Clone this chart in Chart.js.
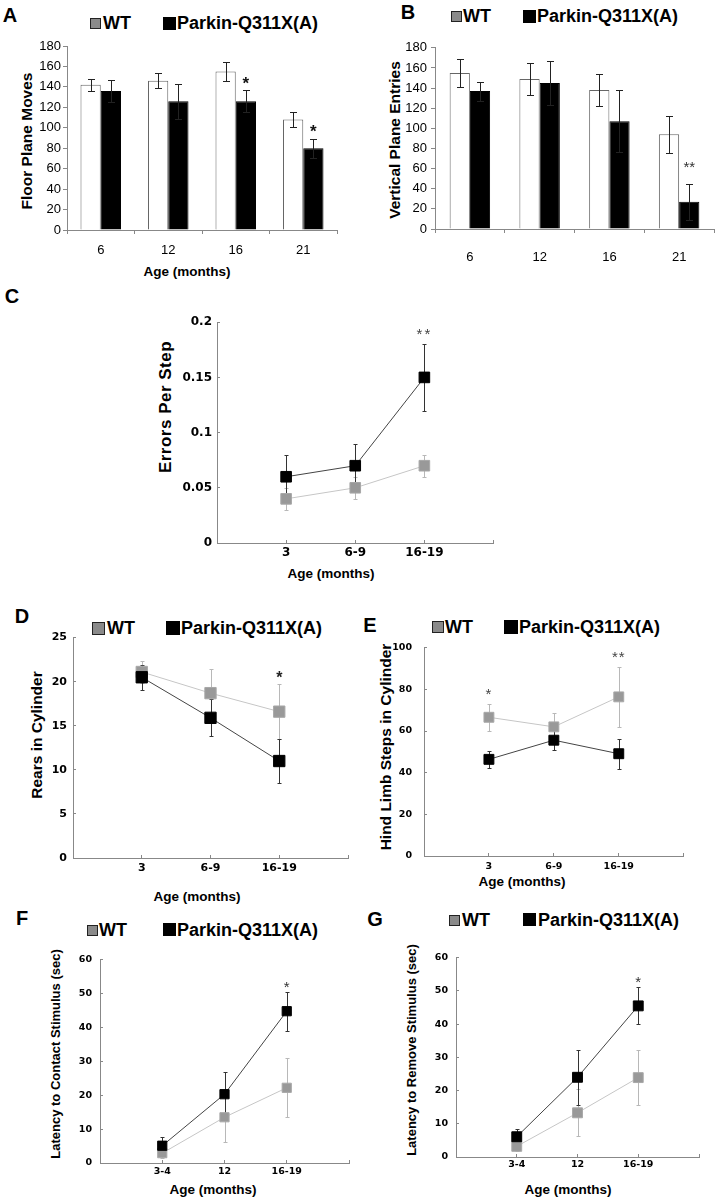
<!DOCTYPE html>
<html>
<head>
<meta charset="utf-8">
<script src="https://cdn.jsdelivr.net/npm/chart.js@4.4.0/dist/chart.umd.min.js"></script>
<style>
body{margin:0;background:#fff;width:716px;height:1199px;position:relative;overflow:hidden;font-family:"Liberation Sans",Arial,sans-serif;}
canvas{position:absolute;}
.t{position:absolute;white-space:nowrap;color:#000;font-weight:bold;line-height:1;}
.c{transform:translate(-50%,-50%);}
.r{transform:translate(-50%,-50%) rotate(-90deg);}
.l{transform:translateY(-50%);}
.wt{position:absolute;box-sizing:border-box;background:#8a8a8a;border:1.5px solid #222;}
.pk{position:absolute;background:#000;}
.lg{font-size:18px;}
</style>
</head>
<body>
<!-- panel letters -->
<div class="t c" style="left:10px;top:15px;font-size:20px">A</div>
<div class="t c" style="left:408px;top:12px;font-size:20px">B</div>
<div class="t c" style="left:12px;top:296px;font-size:20px">C</div>
<div class="t c" style="left:22px;top:616px;font-size:20px">D</div>
<div class="t c" style="left:370px;top:625px;font-size:20px">E</div>
<div class="t c" style="left:22px;top:918px;font-size:20px">F</div>
<div class="t c" style="left:375px;top:919px;font-size:20px">G</div>

<!-- legends -->
<div class="wt" style="left:90px;top:18px;width:11px;height:11px"></div>
<div class="t l lg" style="left:103px;top:23px">WT</div>
<div class="pk" style="left:163px;top:17px;width:13px;height:13px"></div>
<div class="t l lg" style="left:177px;top:23px">Parkin-Q311X(A)</div>

<div class="wt" style="left:451px;top:11px;width:11px;height:11px"></div>
<div class="t l lg" style="left:463px;top:16px">WT</div>
<div class="pk" style="left:523px;top:10px;width:13px;height:13px"></div>
<div class="t l lg" style="left:537px;top:16px">Parkin-Q311X(A)</div>

<div class="wt" style="left:92px;top:622px;width:13px;height:13px"></div>
<div class="t l lg" style="left:107px;top:628px">WT</div>
<div class="pk" style="left:166px;top:621px;width:14px;height:14px"></div>
<div class="t l lg" style="left:181px;top:628px">Parkin-Q311X(A)</div>

<div class="wt" style="left:432px;top:621px;width:12px;height:12px"></div>
<div class="t l lg" style="left:445px;top:627px">WT</div>
<div class="pk" style="left:504px;top:620px;width:14px;height:14px"></div>
<div class="t l lg" style="left:519px;top:627px">Parkin-Q311X(A)</div>

<div class="wt" style="left:87px;top:925px;width:11px;height:11px"></div>
<div class="t l lg" style="left:99px;top:930px">WT</div>
<div class="pk" style="left:163px;top:923px;width:13px;height:13px"></div>
<div class="t l lg" style="left:177px;top:930px">Parkin-Q311X(A)</div>

<div class="wt" style="left:449px;top:915px;width:11px;height:11px"></div>
<div class="t l lg" style="left:462px;top:920px">WT</div>
<div class="pk" style="left:523px;top:913px;width:13px;height:13px"></div>
<div class="t l lg" style="left:538px;top:920px">Parkin-Q311X(A)</div>

<!-- axis titles -->
<div class="t r" style="left:27px;top:141px;font-size:15.5px">Floor Plane Moves</div>
<div class="t c" style="left:187px;top:272px;font-size:13.5px">Age (months)</div>
<div class="t r" style="left:395px;top:140px;font-size:15.5px">Vertical Plane Entries</div>
<div class="t r" style="left:165px;top:407px;font-size:17px;letter-spacing:0.5px">Errors Per Step</div>
<div class="t c" style="left:331px;top:574px;font-size:13.5px">Age (months)</div>
<div class="t r" style="left:37px;top:735px;font-size:15.5px">Rears in Cylinder</div>
<div class="t c" style="left:197px;top:897px;font-size:13.5px">Age (months)</div>
<div class="t r" style="left:386px;top:747px;font-size:15.5px">Hind Limb Steps in Cylinder</div>
<div class="t c" style="left:522px;top:882px;font-size:13.5px">Age (months)</div>
<div class="t r" style="left:55px;top:1054px;font-size:13px">Latency to Contact Stimulus (sec)</div>
<div class="t c" style="left:213px;top:1190px;font-size:13.5px">Age (months)</div>
<div class="t r" style="left:411px;top:1050px;font-size:13px">Latency to Remove Stimulus (sec)</div>
<div class="t c" style="left:568px;top:1190px;font-size:13.5px">Age (months)</div>

<canvas id="cA"></canvas>
<canvas id="cB"></canvas>
<canvas id="cC"></canvas>
<canvas id="cD"></canvas>
<canvas id="cE"></canvas>
<canvas id="cF"></canvas>
<canvas id="cG"></canvas>

<script>
// A, B: open field (bars)
const barAges = ['6', '12', '16', '21'];
const floorWT = [142, 146, 155, 108];
const floorWTErr = [6, 7.5, 9, 7.5];
const floorPk = [136, 126, 126, 80];
const floorPkErr = [11, 17, 11, 9.5];
const floorStars = ['', '', '*', '*'];

const vertWT = [155, 149, 138, 94];
const vertWTErr = [14, 15.5, 15.5, 18.5];
const vertPk = [137, 145, 107, 27];
const vertPkErr = [9.5, 22, 31, 18];
const vertStars = ['', '', '', '**'];

// C, D, E: beam / cylinder
const gaitAges = ['3', '6-9', '16-19'];
const errWT = [0.04, 0.05, 0.07];
const errWTErr = [0.01, 0.01, 0.01];
const errPk = [0.06, 0.07, 0.15];
const errPkErr = [0.02, 0.02, 0.03];
const errStars = ['', '', '**'];

const rearsWT = [21.1, 18.7, 16.6];
const rearsWTErr = [1.2, 2.7, 3.1];
const rearsPk = [20.5, 15.9, 11];
const rearsPkErr = [1.4, 2.1, 2.5];
const rearsStars = ['', '', '*'];

const stepsWT = [66.6, 62, 76.4];
const stepsWTErr = [6.5, 6.5, 14.5];
const stepsPk = [46.4, 55.6, 49.1];
const stepsPkErr = [4, 4.7, 7.2];
const stepsStars = ['*', '', '**'];

// F, G: adhesive removal
const latAges = ['3-4', '12', '16-19'];
const contactWT = [2.9, 13.5, 22.2];
const contactWTErr = [1.5, 7.3, 8.7];
const contactPk = [5.1, 20.3, 44.8];
const contactPkErr = [2.6, 6.7, 5.8];
const contactStars = ['', '', '*'];

const removeWT = [3.2, 13.3, 23.9];
const removeWTErr = [1.5, 7.1, 8.3];
const removePk = [6.1, 24, 45.5];
const removePkErr = [2.2, 8.2, 5.6];
const removeStars = ['', '', '*'];

const txtFont = '"Liberation Sans", Arial, sans-serif';
const wideFont = '"DejaVu Sans", sans-serif';

function val(d) { return typeof d === 'object' ? d.y : d; }

function drawErr(chart, o) {
  const ctx = chart.ctx, ys = chart.scales.y;
  chart.data.datasets.forEach((ds, i) => {
    if (!ds.errors) return;
    const meta = chart.getDatasetMeta(i);
    ctx.save();
    ctx.strokeStyle = ds.errorColor;
    ctx.lineWidth = 1;
    meta.data.forEach((el, j) => {
      const v = val(ds.data[j]), e = ds.errors[j];
      const x = Math.round(el.x) + 0.5;
      const top = Math.round(ys.getPixelForValue(v + e)) + 0.5;
      const bot = Math.round(ys.getPixelForValue(v - e)) + 0.5;
      ctx.beginPath();
      ctx.moveTo(x, top); ctx.lineTo(x, bot);
      ctx.moveTo(x - o.cap, top); ctx.lineTo(x + o.cap, top);
      ctx.moveTo(x - o.cap, bot); ctx.lineTo(x + o.cap, bot);
      ctx.stroke();
    });
    ctx.restore();
  });
}

const errorBars = {
  id: 'errorBars',
  beforeDatasetsDraw(chart, args, o) { if (o.behind) drawErr(chart, o); },
  afterDatasetsDraw(chart, args, o) { if (!o.behind) drawErr(chart, o); }
};

const stars = {
  id: 'stars',
  afterDatasetsDraw(chart, args, o) {
    if (!o.marks) return;
    const ctx = chart.ctx, ds = chart.data.datasets[o.dataset];
    const meta = chart.getDatasetMeta(o.dataset);
    ctx.save();
    ctx.font = o.weight + ' ' + o.size + 'px ' + txtFont;
    ctx.fillStyle = o.color;
    ctx.textAlign = 'center';
    ctx.textBaseline = 'alphabetic';
    if (o.spacing) ctx.letterSpacing = o.spacing;
    o.marks.forEach((m, j) => {
      if (!m) return;
      const capY = chart.scales.y.getPixelForValue(val(ds.data[j]) + ds.errors[j]);
      ctx.fillText(m, meta.data[j].x + (o.dx || 0), capY - o.gap + 0.58 * o.size);
    });
    ctx.restore();
  }
};

// put a canvas so the plot area lands on the given page box
function place(cv, a, yW, xH, padT, padR) {
  cv.width = yW + a.r - a.l + padR;
  cv.height = padT + a.b - a.t + xH;
  cv.style.left = (a.l - yW) + 'px';
  cv.style.top = (a.t - padT) + 'px';
}

function barPanel(id, a, p) {
  const cv = document.getElementById(id);
  place(cv, a, p.yW, p.xH, 10, p.padR);
  new Chart(cv, {
    type: 'bar',
    data: {
      labels: barAges,
      datasets: [
        { label: 'WT', data: p.wt, errors: p.wtErr, errorColor: '#222',
          backgroundColor: '#fff', borderColor: '#666', borderWidth: 1 },
        { label: 'Parkin-Q311X(A)', data: p.pk, errors: p.pkErr, errorColor: '#222',
          backgroundColor: '#000', borderColor: '#000', borderWidth: 1 }
      ]
    },
    options: {
      responsive: false, animation: false, devicePixelRatio: 1,
      layout: { padding: { top: 10, right: p.padR, left: 0, bottom: 0 } },
      datasets: { bar: { categoryPercentage: p.cp, barPercentage: 1 } },
      plugins: {
        legend: { display: false }, tooltip: { enabled: false },
        errorBars: { behind: false, cap: 3.5 },
        stars: { marks: p.marks, dataset: 1, gap: p.starGap, size: p.starSize,
                 weight: p.starWeight, color: p.starColor }
      },
      scales: {
        x: {
          afterFit: s => { s.height = p.xH; },
          grid: { drawOnChartArea: false, tickLength: 4, color: '#888' },
          border: { color: '#888' },
          ticks: { padding: p.xPad, color: '#000', font: { family: txtFont, size: 13 } }
        },
        y: {
          min: 0, max: 180,
          afterFit: s => { s.width = p.yW; },
          grid: { drawOnChartArea: false, tickLength: 4, color: '#888' },
          border: { color: '#888' },
          ticks: { stepSize: 20, padding: p.yPad, color: '#000', font: { family: txtFont, size: 13 } }
        }
      }
    },
    plugins: [errorBars, stars]
  });
}

function linePanel(id, a, p) {
  const cv = document.getElementById(id);
  place(cv, a, 60, 28, 10, 8);
  const pts = arr => arr.map((v, i) => ({ x: i + 1, y: v }));
  const tickFont = { family: wideFont, size: p.font, weight: 'bold' };
  new Chart(cv, {
    type: 'line',
    data: {
      datasets: [
        { label: 'WT', data: pts(p.wt), errors: p.wtErr, errorColor: '#b8b8b8',
          borderColor: '#c6c6c6', borderWidth: 1, pointStyle: 'rect', pointRadius: p.r,
          pointBackgroundColor: '#999', pointBorderColor: '#a8a8a8', pointBorderWidth: 1, order: 1 },
        { label: 'Parkin-Q311X(A)', data: pts(p.pk), errors: p.pkErr, errorColor: '#333',
          borderColor: '#444', borderWidth: 1, pointStyle: 'rect', pointRadius: p.r,
          pointBackgroundColor: '#000', pointBorderColor: '#000', pointBorderWidth: 1, order: 0 }
      ]
    },
    options: {
      responsive: false, animation: false, devicePixelRatio: 1,
      layout: { padding: { top: 10, right: 8, left: 0, bottom: 0 } },
      plugins: {
        legend: { display: false }, tooltip: { enabled: false },
        errorBars: { behind: true, cap: 2 },
        stars: { marks: p.marks, dataset: p.starSet, gap: p.starGap, size: p.starSize,
                 weight: p.starWeight, color: p.starColor, spacing: p.starSpacing }
      },
      scales: {
        x: {
          type: 'linear', min: 0, max: 4,
          afterFit: s => { s.height = 28; },
          grid: { drawOnChartArea: false, tickLength: -3, color: '#888' },
          border: { color: '#888' },
          ticks: { stepSize: 1, autoSkip: false, maxRotation: 0, padding: p.xPad, color: '#000',
                   font: tickFont, callback: v => p.labels[v - 1] ?? '' }
        },
        y: {
          min: 0, max: p.max,
          afterFit: s => { s.width = 60; },
          grid: { drawOnChartArea: false, tickLength: -3, color: '#888' },
          border: { color: '#888' },
          ticks: { stepSize: p.step, padding: p.yPad, color: '#000', font: tickFont,
                   callback: v => String(+v.toFixed(2)) }
        }
      }
    },
    plugins: [errorBars, stars]
  });
}

barPanel('cA', { l: 67, t: 46, r: 337, b: 230 }, {
  wt: floorWT, wtErr: floorWTErr, pk: floorPk, pkErr: floorPkErr, marks: floorStars,
  yW: 67, xH: 34, padR: 6, xPad: 8.2, yPad: 2, cp: 0.6,
  starGap: 11, starSize: 17, starWeight: 'bold', starColor: '#111'
});
barPanel('cB', { l: 435, t: 46, r: 714, b: 229 }, {
  wt: vertWT, wtErr: vertWTErr, pk: vertPk, pkErr: vertPkErr, marks: vertStars,
  yW: 60, xH: 40, padR: 2, xPad: 16.2, yPad: 4, cp: 0.58,
  starGap: 20, starSize: 15, starWeight: 'normal', starColor: '#333'
});

linePanel('cC', { l: 217, t: 317, r: 494, b: 543 }, {
  labels: gaitAges, wt: errWT, wtErr: errWTErr, pk: errPk, pkErr: errPkErr, marks: errStars,
  max: 0.2, step: 0.05, font: 12, xPad: 5.8, yPad: 8, r: 7.5,
  starSet: 1, starGap: 14, starSize: 15, starWeight: 'normal', starColor: '#444', starSpacing: '2px'
});
linePanel('cD', { l: 73, t: 632, r: 349, b: 858 }, {
  labels: gaitAges, wt: rearsWT, wtErr: rearsWTErr, pk: rearsPk, pkErr: rearsPkErr, marks: rearsStars,
  max: 25, step: 5, font: 11, xPad: 6.4, yPad: 9, r: 8,
  starSet: 0, starGap: 11, starSize: 16, starWeight: 'bold', starColor: '#222'
});
linePanel('cE', { l: 424, t: 637, r: 684, b: 856 }, {
  labels: gaitAges, wt: stepsWT, wtErr: stepsWTErr, pk: stepsPk, pkErr: stepsPkErr, marks: stepsStars,
  max: 100, step: 20, font: 9.5, xPad: 8.3, yPad: 15, r: 7,
  starSet: 0, starGap: 13, starSize: 15, starWeight: 'normal', starColor: '#444', starSpacing: '1px'
});
linePanel('cF', { l: 100, t: 953, r: 349, b: 1163 }, {
  labels: latAges, wt: contactWT, wtErr: contactWTErr, pk: contactPk, pkErr: contactPkErr, marks: contactStars,
  max: 60, step: 10, font: 9.5, xPad: 6.3, yPad: 11, r: 6.5,
  starSet: 1, starGap: 8, starSize: 15, starWeight: 'normal', starColor: '#333'
});
linePanel('cG', { l: 456, t: 951, r: 699, b: 1157 }, {
  labels: latAges, wt: removeWT, wtErr: removeWTErr, pk: removePk, pkErr: removePkErr, marks: removeStars,
  max: 60, step: 10, font: 9.5, xPad: 5.3, yPad: 11, r: 7,
  starSet: 1, starGap: 9, starSize: 15, starWeight: 'normal', starColor: '#333'
});
</script>
</body>
</html>
